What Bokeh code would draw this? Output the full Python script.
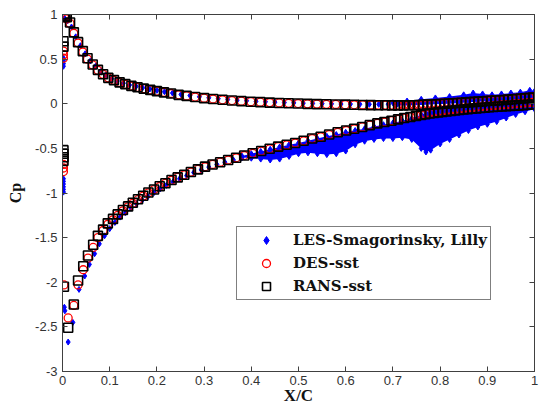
from bokeh.plotting import figure
from bokeh.models import (Range1d, LinearAxis, FixedTicker, Legend, LegendItem,
                          CustomLabelingPolicy)
from bokeh.embed import file_html
from bokeh.resources import INLINE

# ---------------- data ----------------
x_ticks = [0, 0.1, 0.2, 0.3, 0.4, 0.5, 0.6, 0.7, 0.8, 0.9, 1]
x_tick_labels = ["0", "0.1", "0.2", "0.3", "0.4", "0.5", "0.6", "0.7", "0.8", "0.9", "1"]
y_ticks = [-3, -2.5, -2, -1.5, -1, -0.5, 0, 0.5, 1]
y_tick_labels = ["-3", "-2.5", "-2", "-1.5", "-1", "-0.5", "0", "0.5", "1"]

# upper (pressure) side stations shared by RANS / DES
x_up = [0.009, 0.016, 0.024, 0.033, 0.043, 0.053, 0.064, 0.075, 0.086, 0.097,
        0.109, 0.121, 0.133, 0.146, 0.159, 0.172, 0.186, 0.200, 0.215, 0.230,
        0.246, 0.263, 0.281, 0.300, 0.319, 0.339, 0.359, 0.379, 0.399, 0.419,
        0.439, 0.459, 0.479, 0.499, 0.519, 0.539, 0.559, 0.579, 0.599, 0.618,
        0.636, 0.653, 0.669, 0.684, 0.698, 0.711, 0.723, 0.734, 0.745, 0.755,
        0.764, 0.773, 0.782, 0.791, 0.800, 0.809, 0.818, 0.827, 0.836, 0.845,
        0.854, 0.863, 0.872, 0.881, 0.890, 0.899, 0.908, 0.917, 0.926, 0.935,
        0.944, 0.953, 0.962, 0.971, 0.980, 0.989, 0.997]
cp_up_rans = [0.97, 0.91, 0.80, 0.69, 0.59, 0.51, 0.44, 0.38, 0.33, 0.29,
              0.265, 0.24, 0.22, 0.20, 0.185, 0.17, 0.155, 0.142, 0.128, 0.115,
              0.10, 0.088, 0.075, 0.063, 0.053, 0.044, 0.036, 0.029, 0.023, 0.018,
              0.013, 0.009, 0.005, 0.002, -0.001, -0.004, -0.006, -0.008, -0.010, -0.012,
              -0.014, -0.015, -0.016, -0.017, -0.018, -0.018, -0.018, -0.017, -0.016, -0.014,
              -0.012, -0.010, -0.008, -0.005, -0.003, 0.000, 0.003, 0.006, 0.009, 0.012,
              0.015, 0.018, 0.021, 0.024, 0.027, 0.030, 0.033, 0.036, 0.039, 0.042,
              0.046, 0.050, 0.054, 0.058, 0.062, 0.066, 0.070]
cp_up_des = [0.95, 0.90, 0.79, 0.68, 0.58, 0.50, 0.435, 0.375, 0.33, 0.29,
             0.262, 0.238, 0.218, 0.199, 0.184, 0.169, 0.155, 0.142, 0.128, 0.115,
             0.10, 0.088, 0.075, 0.063, 0.053, 0.044, 0.036, 0.029, 0.023, 0.018,
             0.013, 0.009, 0.005, 0.002, -0.001, -0.004, -0.006, -0.008, -0.010, -0.012,
             -0.013, -0.014, -0.015, -0.015, -0.015, -0.015, -0.014, -0.013, -0.011, -0.009,
             -0.006, -0.003, 0.000, 0.003, 0.006, 0.009, 0.012, 0.015, 0.018, 0.021,
             0.024, 0.027, 0.030, 0.033, 0.036, 0.039, 0.042, 0.045, 0.048, 0.051,
             0.055, 0.059, 0.063, 0.067, 0.071, 0.075, 0.079]

# lower (suction) side stations shared by RANS / DES
x_lo = [0.012, 0.024, 0.033, 0.044, 0.054, 0.065, 0.075, 0.086, 0.096, 0.107,
        0.117, 0.128, 0.139, 0.149, 0.160, 0.171, 0.182, 0.194, 0.206, 0.218,
        0.231, 0.244, 0.258, 0.272, 0.287, 0.302, 0.318, 0.334, 0.351, 0.368,
        0.385, 0.403, 0.421, 0.439, 0.457, 0.475, 0.493, 0.511, 0.529, 0.547,
        0.565, 0.583, 0.601, 0.618, 0.635, 0.651, 0.667, 0.682, 0.697, 0.711,
        0.724, 0.737, 0.749, 0.760, 0.769, 0.778, 0.787, 0.796, 0.805, 0.814,
        0.823, 0.832, 0.841, 0.850, 0.859, 0.868, 0.877, 0.886, 0.895, 0.904,
        0.913, 0.922, 0.931, 0.940, 0.949, 0.958, 0.967, 0.976, 0.985, 0.994]
cp_lo_rans = [-2.51, -2.25, -1.98, -1.82, -1.70, -1.58, -1.48, -1.41, -1.34, -1.29,
              -1.24, -1.19, -1.15, -1.11, -1.07, -1.03, -0.995, -0.96, -0.925, -0.89,
              -0.855, -0.825, -0.795, -0.765, -0.735, -0.705, -0.68, -0.655, -0.63, -0.605,
              -0.58, -0.555, -0.53, -0.505, -0.48, -0.46, -0.44, -0.415, -0.39, -0.37,
              -0.345, -0.32, -0.30, -0.28, -0.26, -0.24, -0.22, -0.205, -0.19, -0.175,
              -0.16, -0.148, -0.136, -0.125, -0.117, -0.110, -0.103, -0.097, -0.091, -0.085,
              -0.080, -0.075, -0.070, -0.065, -0.060, -0.056, -0.052, -0.048, -0.044, -0.040,
              -0.036, -0.033, -0.030, -0.027, -0.024, -0.021, -0.018, -0.015, -0.012, -0.008]
cp_lo_des = [-2.40, -2.26, -2.03, -1.86, -1.73, -1.61, -1.50, -1.42, -1.35, -1.30,
             -1.25, -1.20, -1.155, -1.115, -1.075, -1.035, -0.998, -0.962, -0.927, -0.892,
             -0.857, -0.826, -0.796, -0.766, -0.736, -0.706, -0.68, -0.655, -0.63, -0.605,
             -0.58, -0.555, -0.53, -0.505, -0.48, -0.46, -0.44, -0.415, -0.39, -0.37,
             -0.345, -0.32, -0.30, -0.28, -0.26, -0.24, -0.22, -0.205, -0.19, -0.175,
             -0.16, -0.146, -0.133, -0.121, -0.112, -0.104, -0.096, -0.089, -0.082, -0.076,
             -0.070, -0.064, -0.058, -0.053, -0.048, -0.043, -0.038, -0.034, -0.030, -0.026,
             -0.022, -0.018, -0.014, -0.010, -0.006, -0.002, 0.002, 0.006, 0.010, 0.014]

# leading-edge clusters
rans_le_x = [0.004, 0.006, 0.002, 0.002, 0.002, 0.002, 0.002, 0.002, 0.003]
rans_le_cp = [1.00, 0.98, 0.70, 0.64, -0.52, -0.56, -0.60, -0.64, -2.05]
des_le_x = [0.004, 0.002, 0.002, 0.002, 0.002, 0.002, 0.002, 0.003]
des_le_cp = [0.98, 0.59, 0.55, 0.51, -0.68, -0.72, -0.76, -2.03]
les_le_x = [0.002, 0.002, 0.002, 0.002, 0.002, 0.002, 0.002, 0.002, 0.002, 0.002, 0.004]
les_le_cp = [0.42, 0.45, 0.48, 0.51, -0.84, -0.87, -0.90, -0.93, -0.96, -0.99, -2.28]

# LES upper side
x_up_les = [0.004, 0.011, 0.019, 0.028, 0.038, 0.048, 0.059, 0.070, 0.081, 0.092,
            0.104, 0.116, 0.129, 0.142, 0.156, 0.170, 0.185, 0.200, 0.216, 0.233,
            0.251, 0.270, 0.290, 0.310, 0.330, 0.350, 0.370, 0.390, 0.410, 0.430,
            0.450, 0.470, 0.490, 0.510, 0.530, 0.550, 0.570, 0.590, 0.610, 0.630,
            0.650, 0.670, 0.690, 0.710]
cp_up_les = [0.96, 0.93, 0.86, 0.75, 0.65, 0.56, 0.48, 0.42, 0.36, 0.32,
             0.28, 0.255, 0.23, 0.21, 0.195, 0.18, 0.165, 0.15, 0.135, 0.12,
             0.105, 0.092, 0.078, 0.067, 0.057, 0.048, 0.04, 0.034, 0.028, 0.023,
             0.018, 0.014, 0.01, 0.007, 0.004, 0.001, -0.001, -0.003, -0.004, -0.005,
             -0.006, -0.006, -0.005, -0.004]
# LES lower side (attached part)
x_lo_les = [0.005, 0.012, 0.022, 0.035, 0.047, 0.057, 0.068, 0.078, 0.089, 0.100,
            0.111, 0.122, 0.133, 0.145, 0.157, 0.169, 0.181, 0.194, 0.207, 0.220,
            0.234, 0.248, 0.263, 0.278, 0.294, 0.310, 0.327, 0.344, 0.362, 0.380]
cp_lo_les = [-2.32, -2.67, -2.45, -2.08, -1.93, -1.80, -1.68, -1.57, -1.48, -1.40,
             -1.33, -1.27, -1.22, -1.17, -1.12, -1.08, -1.04, -0.995, -0.955, -0.915,
             -0.875, -0.84, -0.805, -0.77, -0.74, -0.71, -0.68, -0.655, -0.63, -0.605]
# LES scatter band, lower side (top / bottom envelope)
band_x = [0.38, 0.40, 0.42, 0.44, 0.46, 0.48, 0.50, 0.52, 0.54, 0.56,
          0.58, 0.60, 0.62, 0.64, 0.66, 0.68, 0.70, 0.72, 0.74, 0.76,
          0.77, 0.78, 0.80, 0.82, 0.84, 0.86, 0.88, 0.90, 0.92, 0.94,
          0.96, 0.98, 1.00]
band_top = [-0.585, -0.56, -0.535, -0.51, -0.485, -0.46, -0.44, -0.415, -0.39, -0.365,
            -0.345, -0.32, -0.30, -0.28, -0.255, -0.235, -0.215, -0.19, -0.165, -0.12,
            -0.10, -0.08, -0.05, -0.03, -0.01, 0.0, 0.01, 0.02, 0.03, 0.04,
            0.05, 0.06, 0.07]
band_bot = [-0.60, -0.61, -0.62, -0.63, -0.62, -0.59, -0.56, -0.55, -0.56, -0.57,
            -0.56, -0.53, -0.46, -0.42, -0.40, -0.39, -0.39, -0.38, -0.40, -0.50,
            -0.54, -0.52, -0.45, -0.40, -0.35, -0.30, -0.26, -0.23, -0.20, -0.16,
            -0.12, -0.09, -0.06]
# LES scatter band, upper side near trailing edge
ub_x = [0.70, 0.73, 0.76, 0.79, 0.82, 0.85, 0.87, 0.89, 0.91, 0.93, 0.95, 0.97, 0.99, 1.00]
ub_top = [0.01, 0.03, 0.05, 0.065, 0.08, 0.10, 0.12, 0.11, 0.10, 0.11, 0.12, 0.13, 0.15, 0.14]
ub_bot = [-0.02, -0.02, -0.015, -0.005, 0.0, 0.01, 0.02, 0.025, 0.03, 0.035, 0.04, 0.05, 0.06, 0.06]

# ---------------- figure ----------------
AX = "#404040"
p = figure(width=539, height=412, x_range=Range1d(0, 1), y_range=Range1d(-3, 1),
           output_backend="svg", toolbar_location=None,
           min_border_left=62, min_border_right=2, min_border_top=14, min_border_bottom=41)
p.grid.visible = False
p.outline_line_color = AX
p.background_fill_color = "white"
p.border_fill_color = "white"

no_labels = CustomLabelingPolicy(code="return new Set()")

def style_axis(ax, ticks, labels, show_labels=True):
    ax.ticker = FixedTicker(ticks=ticks)
    ax.major_label_overrides = dict(zip(ticks, labels))
    ax.axis_line_color = AX
    ax.major_tick_line_color = AX
    ax.major_tick_in = 5
    ax.major_tick_out = 0
    ax.minor_tick_line_color = None
    ax.major_label_text_font = "Liberation Sans"
    ax.major_label_text_font_size = "13px"
    ax.major_label_text_color = "#333333"
    ax.major_label_standoff = 4
    if not show_labels:
        ax.major_label_policy = no_labels
        ax.major_label_standoff = 0
        ax.major_label_text_font_size = "1px"

style_axis(p.xaxis[0], x_ticks, x_tick_labels)
style_axis(p.yaxis[0], y_ticks, y_tick_labels)
p.yaxis[0].major_label_standoff = 5

p.xaxis[0].axis_label = "X/C"
p.xaxis[0].axis_label_text_font = "Liberation Serif"
p.xaxis[0].axis_label_text_font_style = "bold"
p.xaxis[0].axis_label_text_font_size = "17px"
p.xaxis[0].axis_label_text_color = "#111111"
p.xaxis[0].axis_label_standoff = -2

p.yaxis[0].axis_label = "Cp"
p.yaxis[0].axis_label_text_font = "Liberation Serif"
p.yaxis[0].axis_label_text_font_style = "bold"
p.yaxis[0].axis_label_text_font_size = "16px"
p.yaxis[0].axis_label_text_color = "#111111"
p.yaxis[0].axis_label_standoff = 8

top_ax = LinearAxis()
style_axis(top_ax, x_ticks, x_tick_labels, show_labels=False)
p.add_layout(top_ax, "above")
right_ax = LinearAxis()
style_axis(right_ax, y_ticks, y_tick_labels, show_labels=False)
p.add_layout(right_ax, "right")

BLUE = "#0000ff"
RED = "#ff0000"

# LES
p.varea(x=band_x, y1=band_bot, y2=band_top, fill_color=BLUE)
p.varea(x=ub_x, y1=ub_bot, y2=ub_top, fill_color=BLUE)
les_kw = dict(marker="diamond", size=6, fill_color=BLUE, line_color=BLUE)
p.scatter(band_x, band_bot, **les_kw)
p.scatter(band_x, band_top, **les_kw)
p.scatter(ub_x, ub_top, **les_kw)
p.scatter(x_up_les, cp_up_les, **les_kw)
p.scatter(x_lo_les, cp_lo_les, **les_kw)
r_les = p.scatter(les_le_x, les_le_cp, **les_kw)

# DES
des_kw = dict(marker="circle", size=8, fill_color=None, line_color=RED, line_width=1.3)
p.scatter(x_up, cp_up_des, **des_kw)
p.scatter(x_lo, cp_lo_des, **des_kw)
r_des = p.scatter(des_le_x, des_le_cp, **des_kw)

# RANS
rans_kw = dict(marker="square", size=9, fill_color=None, line_color="black", line_width=1.6)
p.scatter(x_up, cp_up_rans, **rans_kw)
p.scatter(x_lo, cp_lo_rans, **rans_kw)
r_rans = p.scatter(rans_le_x, rans_le_cp, **rans_kw)

legend = Legend(items=[LegendItem(label="LES-Smagorinsky, Lilly", renderers=[r_les]),
                       LegendItem(label="DES-sst", renderers=[r_des]),
                       LegendItem(label="RANS-sst", renderers=[r_rans])],
                location=(174, 71), padding=3, spacing=3, margin=0,
                glyph_width=52, glyph_height=20, label_standoff=1,
                label_text_font="DejaVu Serif", label_text_font_style="bold",
                label_text_font_size="15px", label_text_color="#111111",
                border_line_color="black", border_line_width=1,
                background_fill_color="white", background_fill_alpha=1)
p.add_layout(legend)

open("out.html", "w").write(file_html(p, INLINE))
